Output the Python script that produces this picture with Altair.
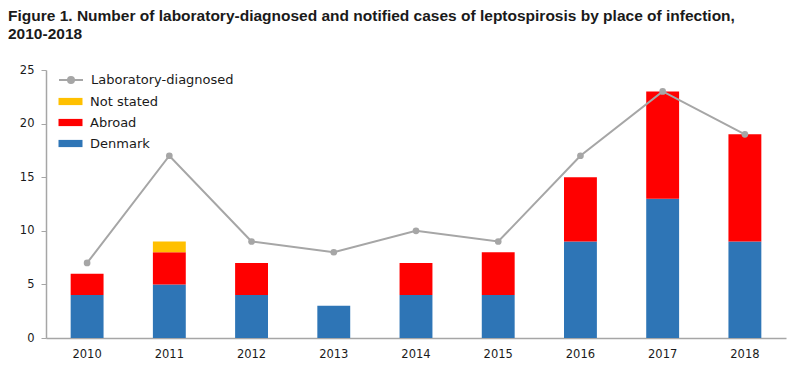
import altair as alt
import pandas as pd

years = ["2010", "2011", "2012", "2013", "2014", "2015", "2016", "2017", "2018"]
denmark = [4, 5, 4, 3, 4, 4, 9, 13, 9]
abroad = [2, 3, 3, 0, 3, 4, 6, 10, 10]
not_stated = [0, 1, 0, 0, 0, 0, 0, 0, 0]
lab_diagnosed = [7, 17, 9, 8, 10, 9, 17, 23, 19]

places = ["Not stated", "Abroad", "Denmark"]
place_colors = ["#FFC000", "#FF0000", "#2E75B6"]
stack_order = {"Denmark": 0, "Abroad": 1, "Not stated": 2}

rows = []
for i, y in enumerate(years):
    for p, vals in (("Denmark", denmark), ("Abroad", abroad), ("Not stated", not_stated)):
        rows.append({"year": y, "place": p, "cases": vals[i], "ord": stack_order[p]})
bars_df = pd.DataFrame(rows)

line_df = pd.DataFrame({"year": years, "cases": lab_diagnosed, "series": "Laboratory-diagnosed"})

FONT = "DejaVu Sans"
GRAY = "#A6A6A6"
TXT = "#1a1a1a"

x = alt.X("year:N", title=None, sort=years,
          scale=alt.Scale(paddingInner=0.6, paddingOuter=0.3),
          axis=alt.Axis(labelAngle=0, ticks=False, domainColor=GRAY, domainWidth=1.5,
                        labelPadding=10, labelFont=FONT, labelFontSize=11.5, labelColor=TXT))
y_scale = alt.Scale(domain=[0, 25])
y_axis = alt.Axis(values=[0, 5, 10, 15, 20, 25], grid=False, domainColor=GRAY, domainWidth=1.5,
                  tickColor=GRAY, tickSize=5, labelPadding=7, labelFont=FONT, labelFontSize=11.5,
                  labelColor=TXT)

bars = alt.Chart(bars_df).mark_bar().encode(
    x=x,
    y=alt.Y("cases:Q", title=None, scale=y_scale, axis=y_axis, stack="zero"),
    fill=alt.Fill("place:N", scale=alt.Scale(domain=places, range=place_colors),
                  legend=alt.Legend(title=None, orient="none", legendX=18, legendY=25,
                                    symbolType="M-2,-0.6H2V0.6H-2Z", symbolSize=144,
                                    symbolStrokeWidth=0, labelOffset=13, rowPadding=7,
                                    labelFont=FONT, labelFontSize=13, labelColor=TXT,
                                    padding=0)),
    order=alt.Order("ord:Q", sort="ascending"),
)

line = alt.Chart(line_df).mark_line(strokeWidth=2).encode(
    x=alt.X("year:N", sort=years),
    y=alt.Y("cases:Q", scale=y_scale),
    stroke=alt.Stroke("series:N", scale=alt.Scale(domain=["Laboratory-diagnosed"], range=[GRAY]),
                      legend=alt.Legend(title=None, orient="none", legendX=18, legendY=3,
                                        symbolType="M-2,0H2M-0.5,0A0.5,0.5,0,1,0,0.5,0A0.5,0.5,0,1,0,-0.5,0Z",
                                        symbolSize=144, symbolStrokeWidth=2,
                                        symbolFillColor=GRAY, labelOffset=13,
                                        labelFont=FONT, labelFontSize=13, labelColor=TXT,
                                        padding=0)),
)

points = alt.Chart(line_df).mark_circle(size=45, color=GRAY, opacity=1).encode(
    x=alt.X("year:N", sort=years),
    y=alt.Y("cases:Q", scale=y_scale),
)

chart = alt.layer(bars, line, points).resolve_scale(fill="independent", stroke="independent").properties(
    width=740,
    height=268,
    autosize=alt.AutoSizeParams(type="none"),
    padding={"left": 38, "top": 62, "right": 6, "bottom": 26},
    title=alt.TitleParams(
        text=["Figure 1. Number of laboratory-diagnosed and notified cases of leptospirosis  by place of infection,",
              "2010-2018"],
        anchor="start", frame="group", dx=-38, offset=22,
        font="Liberation Sans",
        fontSize=15.5, fontWeight="bold", color=TXT, lineHeight=18,
    ),
).configure_view(stroke=None)

chart.save("out.html", embed_options={"renderer": "svg", "actions": False})
